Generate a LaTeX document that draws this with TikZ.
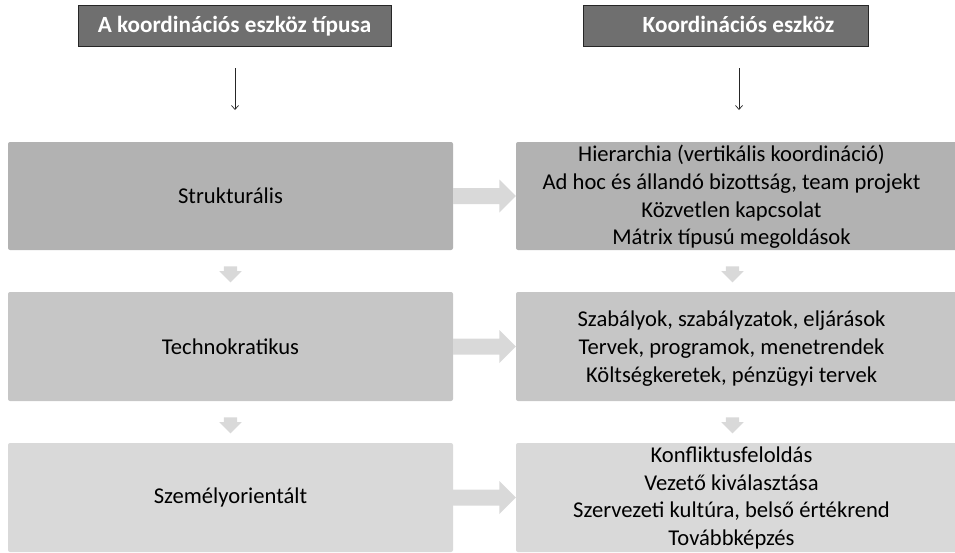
\documentclass[tikz,border=0pt]{standalone}
\usepackage{fontspec}
\setmainfont{Carlito}
\usetikzlibrary{shapes.arrows,arrows.meta,calc}
\definecolor{hdrfill}{HTML}{6F6F6F}
\definecolor{rowA}{HTML}{B2B2B2}
\definecolor{rowB}{HTML}{C6C6C6}
\definecolor{rowC}{HTML}{D9D9D9}
\definecolor{flow}{HTML}{D9D9D9}

% wide flat arrow from the east side of one node to the west side of another
\newcommand\flowright[2]{%
  \fill[flow] ($(#1.east)+(0,-8)$) -- ($(#2.west)+(-16.5,-8)$)
    -- ($(#2.west)+(-16.5,-16.5)$) -- (#2.west)
    -- ($(#2.west)+(-16.5,16.5)$) -- ($(#2.west)+(-16.5,8)$)
    -- ($(#1.east)+(0,8)$) -- cycle;}

\begin{document}
\begin{tikzpicture}[x=1pt,y=-1pt,
  hdr/.style={draw=black!85, line width=0.8pt, fill=hdrfill, text=white,
    font=\fontsize{23.2}{28}\bfseries\selectfont, minimum height=41pt,
    inner sep=0pt, text height=16pt, text depth=2pt},
  panel/.style={rounded corners=2pt, inner sep=0pt, minimum height=109pt},
  txt/.style={font=\fontsize{22.6}{27.6}\selectfont, align=center, inner sep=0pt},
  downarr/.style={single arrow, fill=flow, draw=none, rotate=-90,
    minimum height=16pt, minimum width=22pt, single arrow head extend=4.5pt,
    single arrow head indent=0pt, inner xsep=0pt, inner ysep=6.5pt},
  thinarr/.style={line width=0.7pt, draw=black!85,
    -{Straight Barb[length=4pt,width=7pt]}}
]
\useasboundingbox (0,0) rectangle (955,552);

% column headers
\node[hdr, minimum width=313pt] (h1) at (234.5,25.5) {A koordinációs eszköz típusa};
\node[hdr, minimum width=285pt] (h2) at (725.5,25.5) {\hspace*{26pt}Koordinációs eszköz};

% pointers below the headers
\coordinate (p1s) at (235,68);  \coordinate (p1e) at (235,110);
\coordinate (p2s) at (739,68);  \coordinate (p2e) at (739,110);
\draw[thinarr] (p1s) -- (p1e);
\draw[thinarr] (p2s) -- (p2e);

% left column: types
\node[panel, fill=rowA, minimum width=445pt, minimum height=108pt] (l1) at (230.5,196) {};
\node[panel, fill=rowB, minimum width=445pt] (l2) at (230.5,346.5) {};
\node[panel, fill=rowC, minimum width=445pt] (l3) at (230.5,497.5) {};
\node[txt] (l1t) at (l1.center) {Strukturális};
\node[txt] (l2t) at (l2.center) {Technokratikus};
\node[txt] (l3t) at (l3.center) {Személyorientált};

% right column: tools
\node[panel, fill=rowA, minimum width=441pt, minimum height=108pt] (r1) at (736.5,196) {};
\node[panel, fill=rowB, minimum width=441pt] (r2) at (736.5,346.5) {};
\node[panel, fill=rowC, minimum width=441pt] (r3) at (736.5,497.5) {};
\node[txt] (r1t) at ([xshift=-5pt,yshift=-1pt]r1.center)
  {Hierarchia (vertikális koordináció)\\Ad hoc és állandó bizottság, team projekt\\Közvetlen kapcsolat\\Mátrix típusú megoldások};
\node[txt] (r2t) at ([xshift=-5pt,yshift=-2pt]r2.center)
  {Szabályok, szabályzatok, eljárások\\Tervek, programok, menetrendek\\Költségkeretek, pénzügyi tervek};
\node[txt] (r3t) at ([xshift=-5pt,yshift=-0.5pt]r3.center)
  {Konfliktusfeloldás\\Vezető kiválasztása\\Szervezeti kultúra, belső értékrend\\Továbbképzés};

% block arrows from type to tool
\flowright{l1}{r1}
\flowright{l2}{r2}
\flowright{l3}{r3}

% small arrows between rows
\node[downarr] (d1) at ($(l1.south)!0.5!(l2.north)$) {};
\node[downarr] (d2) at ($(l2.south)!0.5!(l3.north)$) {};
\node[downarr] (d3) at ($(r1.south)!0.5!(r2.north)+(-4,0)$) {};
\node[downarr] (d4) at ($(r2.south)!0.5!(r3.north)+(-4,0)$) {};
\end{tikzpicture}
\end{document}
